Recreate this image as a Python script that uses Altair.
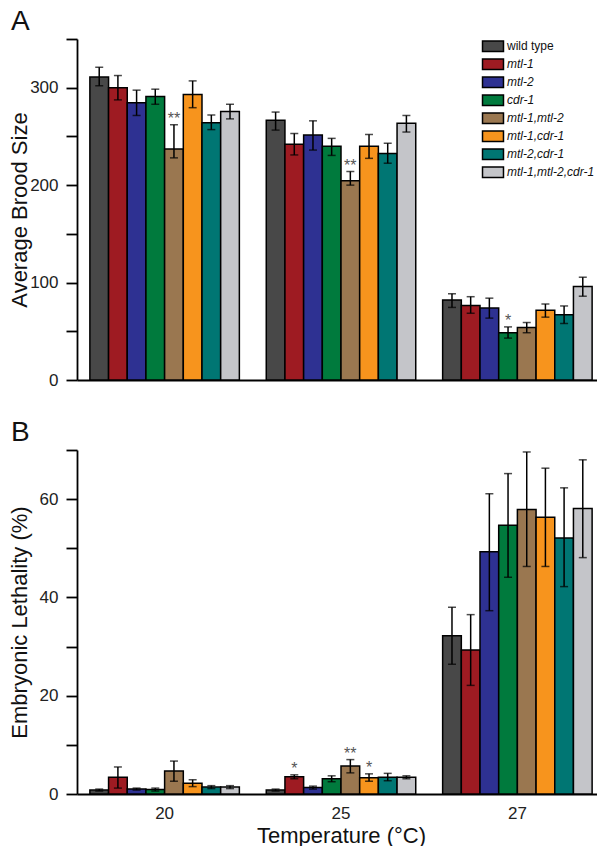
import altair as alt
import pandas as pd

genotypes = ["wild type", "mtl-1", "mtl-2", "cdr-1", "mtl-1,mtl-2",
             "mtl-1,cdr-1", "mtl-2,cdr-1", "mtl-1,mtl-2,cdr-1"]
colors = ["#484848", "#9E1B22", "#2E3192", "#007A3D", "#9A7750",
          "#F7941D", "#007673", "#C4C5C9"]
temps = ["20", "25", "27"]

# Panel A: average brood size
brood_20 = [311, 300, 284.5, 291, 237, 293, 264, 275.5]
brood_20_lo = [302, 287.5, 271.5, 283, 228, 279.5, 257, 268]
brood_20_hi = [321, 312.5, 297.5, 298.5, 262, 307, 272, 283]
brood_25 = [266.5, 242, 251.5, 240, 204.5, 240, 232.5, 263.5]
brood_25_lo = [256.5, 231, 236, 230.5, 200, 227.5, 222.5, 254.5]
brood_25_hi = [275, 253, 266, 248, 214, 252, 243, 271.5]
brood_27 = [82, 76.5, 74, 48.5, 54, 71.5, 67, 96]
brood_27_lo = [74.5, 68.5, 63.5, 43, 48.5, 64.5, 58, 86]
brood_27_hi = [88.5, 85.5, 84, 54.5, 59, 78, 76, 105.5]
brood_stars_20 = ["", "", "", "", "**", "", "", ""]
brood_stars_25 = ["", "", "", "", "**", "", "", ""]
brood_stars_27 = ["", "", "", "*", "", "", "", ""]

# Panel B: embryonic lethality (%)
leth_20 = [0.8, 3.4, 1.0, 0.9, 4.7, 2.2, 1.4, 1.4]
leth_20_lo = [0.6, 1.2, 0.8, 0.6, 2.6, 1.5, 1.1, 1.1]
leth_20_hi = [1.0, 5.5, 1.2, 1.2, 6.7, 2.9, 1.7, 1.7]
leth_25 = [0.8, 3.5, 1.3, 3.1, 5.7, 3.3, 3.4, 3.4]
leth_25_lo = [0.6, 3.1, 1.0, 2.5, 4.3, 2.6, 2.7, 3.1]
leth_25_hi = [1.0, 3.9, 1.6, 3.7, 7.0, 4.1, 4.2, 3.7]
leth_27 = [32.2, 29.3, 49.3, 54.7, 57.9, 56.3, 52.1, 58.1]
leth_27_lo = [26.4, 22.1, 37.3, 44.1, 46.3, 46.3, 42.2, 48.1]
leth_27_hi = [38.0, 36.5, 61.1, 65.2, 69.6, 66.3, 62.3, 68.0]
leth_stars_20 = ["", "", "", "", "", "", "", ""]
leth_stars_25 = ["", "*", "", "", "**", "*", "", ""]
leth_stars_27 = ["", "", "", "", "", "", "", ""]


def build(groups):
    rows = []
    for t, (m, lo, hi, st) in zip(temps, groups):
        for g, mv, l, h, s in zip(genotypes, m, lo, hi, st):
            rows.append({"temp": t, "genotype": g, "mean": mv, "lo": l, "hi": h, "star": s})
    return pd.DataFrame(rows)


dfA = build([(brood_20, brood_20_lo, brood_20_hi, brood_stars_20),
             (brood_25, brood_25_lo, brood_25_hi, brood_stars_25),
             (brood_27, brood_27_lo, brood_27_hi, brood_stars_27)])
dfB = build([(leth_20, leth_20_lo, leth_20_hi, leth_stars_20),
             (leth_25, leth_25_lo, leth_25_hi, leth_stars_25),
             (leth_27, leth_27_lo, leth_27_hi, leth_stars_27)])

W = 528
HA = 341
HB = 344
FONT = "Liberation Sans"


def panel(df, ymax, step, label_every, ytitle, height, letter, show_x, legend):
    xs = alt.Scale(paddingInner=0.1525, paddingOuter=0.073)
    if show_x:
        xaxis = alt.Axis(ticks=False, labelAngle=0, labelPadding=11, labelFontSize=17,
                         title="Temperature (°C)", titleFontSize=22, titleFontWeight="normal",
                         titlePadding=4, titleFont=FONT, labelFont=FONT, titleColor="#111")
    else:
        xaxis = alt.Axis(ticks=False, labels=False, title=None)
    x = alt.X("temp:N", sort=temps, scale=xs, axis=xaxis)
    xo = alt.XOffset("genotype:N", sort=genotypes, scale=alt.Scale(paddingInner=0, paddingOuter=0))
    yaxis = alt.Axis(values=list(range(0, ymax + 1, step)),
                     labelExpr=f"datum.value % {label_every} == 0 ? datum.label : ''",
                     tickSize=11, grid=False, labelPadding=8, labelFontSize=17, labelFont=FONT,
                     title=ytitle, titleFontSize=22, titleFontWeight="normal", titleFont=FONT,
                     titleX=-46, titleY=height / 2, titleColor="#111")
    y = alt.Y("mean:Q", scale=alt.Scale(domain=[0, ymax], nice=False), axis=yaxis)
    if legend:
        leg = alt.Legend(title=None, orient="none", legendX=410, legendY=1.25,
                         symbolType="M-2,-1H2V1H-2Z", symbolSize=110,
                         symbolStrokeColor="black", symbolStrokeWidth=1.5,
                         labelFontSize=12, labelFont=FONT, labelOffset=8, rowPadding=0,
                         labelColor="#111",
                         labelFontStyle={"expr": "datum.label == 'wild type' ? 'normal' : 'italic'"})
    else:
        leg = None
    color = alt.Color("genotype:N", scale=alt.Scale(domain=genotypes, range=colors), legend=leg)
    base = alt.Chart(df)
    bars = base.mark_bar(stroke="black", strokeWidth=1.5).encode(x=x, xOffset=xo, y=y, color=color)
    err = base.mark_rule(color="black", strokeWidth=1.5).encode(
        x=x, xOffset=xo, y=alt.Y("lo:Q"), y2="hi:Q")
    cap_lo = base.mark_tick(color="black", thickness=1.5, size=8).encode(
        x=x, xOffset=xo, y=alt.Y("lo:Q"))
    cap_hi = base.mark_tick(color="black", thickness=1.5, size=8).encode(
        x=x, xOffset=xo, y=alt.Y("hi:Q"))
    stars = base.transform_filter("datum.star != ''").mark_text(
        fontSize=16, color="#555", baseline="alphabetic", dy=-1, font=FONT).encode(
        x=x, xOffset=xo, y=alt.Y("hi:Q"), text="star:N")
    return alt.layer(bars, err, cap_lo, cap_hi, stars).properties(
        width=W, height=height,
        title=alt.TitleParams(letter, anchor="start", frame="group", dx=-66, fontSize=28,
                              fontWeight="normal", font=FONT, color="#111", offset=2))


A = panel(dfA, 350, 50, 100, "Average Brood Size", HA, "A", False, True)
B = panel(dfB, 70, 10, 20, "Embryonic Lethality (%)", HB, "B", True, False)

chart = alt.vconcat(A, B, spacing=31).resolve_scale(color="independent").properties(
    padding={"left": 0, "top": 0, "right": -8, "bottom": 0}
).configure_view(stroke=None).configure_axis(
    domainColor="black", domainWidth=1.8, tickColor="black", tickWidth=1.8,
    labelColor="#222"
)

chart.save("out.html", embed_options={"renderer": "svg", "actions": False})
